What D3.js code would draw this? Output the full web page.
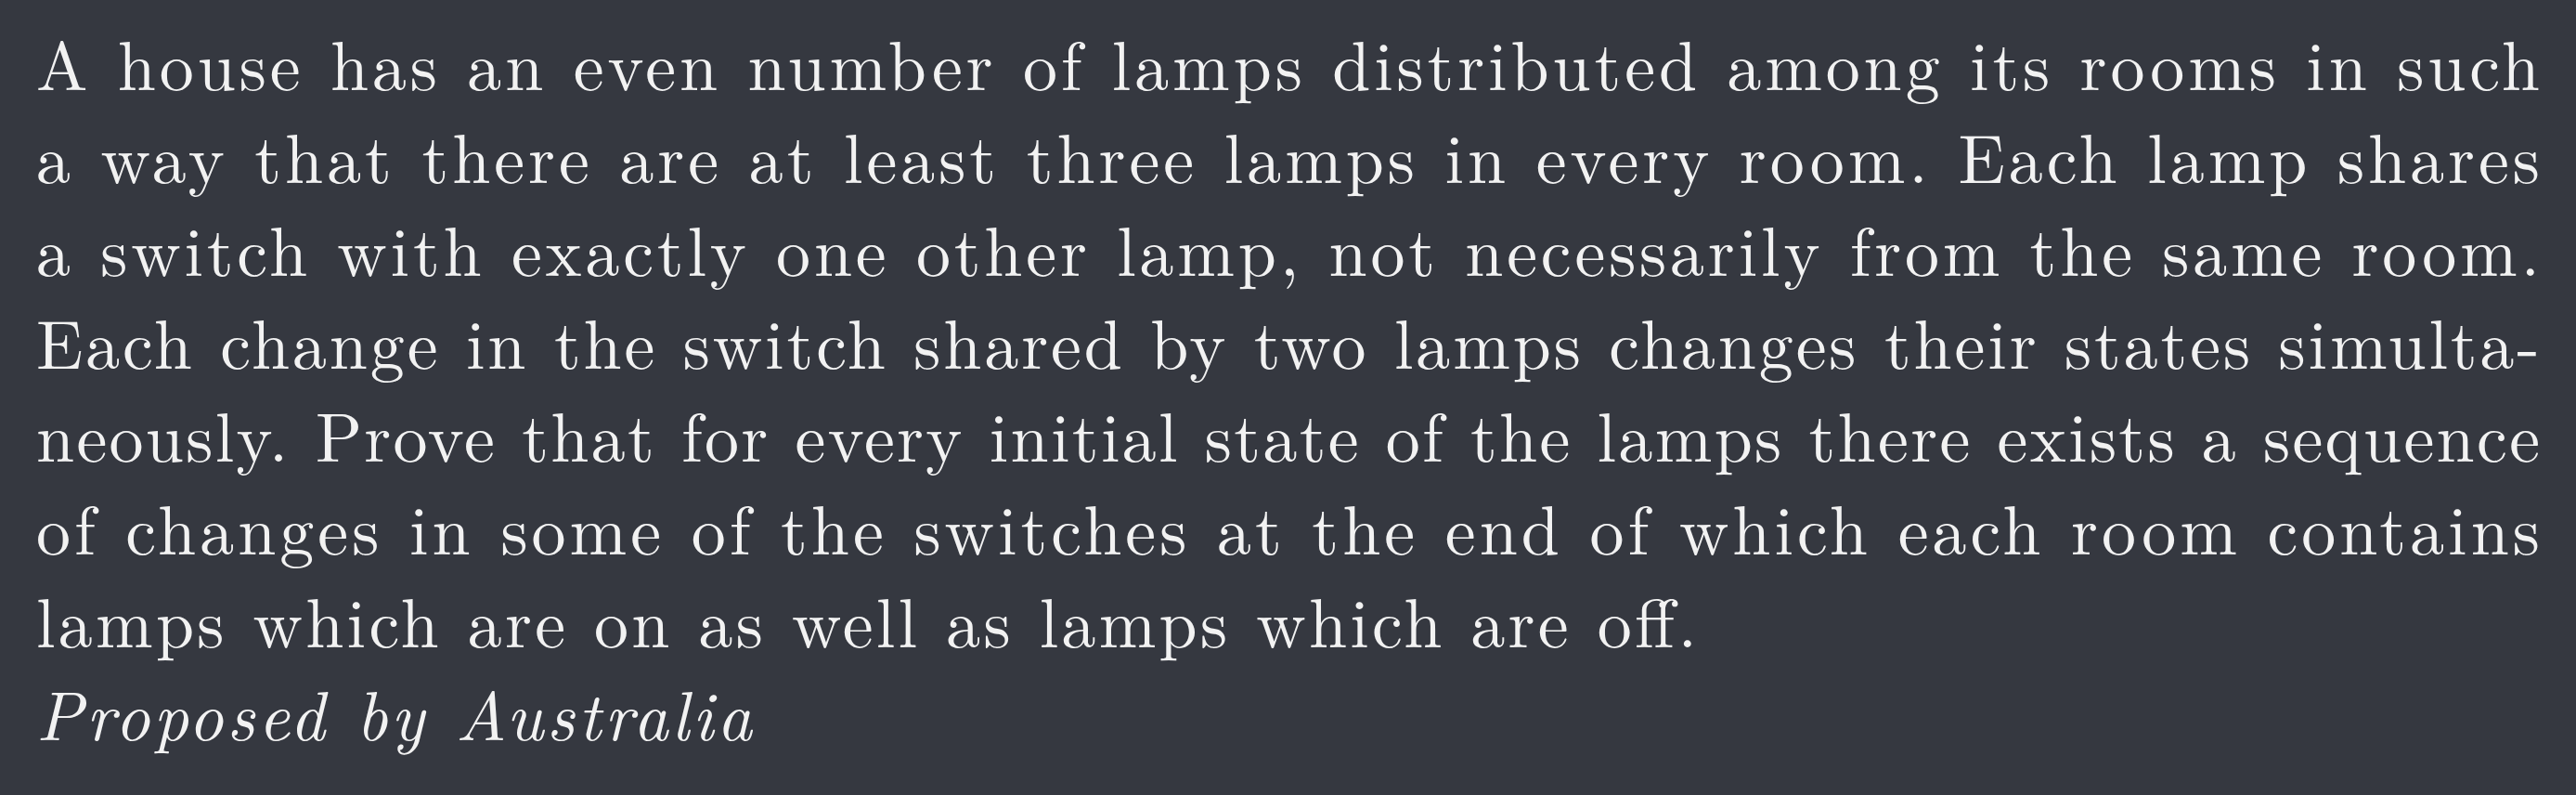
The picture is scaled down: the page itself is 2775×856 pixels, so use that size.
<!DOCTYPE html>
<html>
<head>
<meta charset="utf-8">
<script src="https://cdn.jsdelivr.net/npm/d3@7"></script>
<style>
  body { margin: 0; background: #353840; }
</style>
</head>
<body>
<script>
// lines of the problem text, as set in the picture
var lines = [
  'A house has an even number of lamps distributed among its rooms in such',
  'a way that there are at least three lamps in every room. Each lamp shares',
  'a switch with exactly one other lamp, not necessarily from the same room.',
  'Each change in the switch shared by two lamps changes their states simulta-',
  'neously. Prove that for every initial state of the lamps there exists a sequence',
  'of changes in some of the switches at the end of which each room contains',
  'lamps which are on as well as lamps which are off.',
  'Proposed by Australia'
];
// right edge of each line (px)
var lineEnds = [2736, 2736, 2736, 2736, 2736, 2736, 1828, 810];
var italicLine = [false, false, false, false, false, false, false, true];

var width = 2775, height = 856;
var svg = d3.select('body').append('svg')
  .attr('width', width).attr('height', height);

svg.append('rect').attr('width', width).attr('height', height).attr('fill', '#353840');

var y = d3.scaleLinear().domain([0, lines.length - 1]).range([97, 797]);
var left = 39;

svg.selectAll('text.line').data(lines).enter().append('text')
  .classed('line', true)
  .attr('x', left)
  .attr('y', function(d, i) { return y(i); })
  .attr('fill', '#f2f2f2')
  .attr('font-family', '"Latin Modern Roman", "CMU Serif", "Liberation Serif", serif')
  .attr('font-size', 74)
  .attr('font-style', function(d, i) { return italicLine[i] ? 'italic' : 'normal'; })
  .attr('textLength', function(d, i) { return lineEnds[i] - left; })
  .attr('lengthAdjust', 'spacing')
  .text(function(d) { return d; });
</script>
</body>
</html>
